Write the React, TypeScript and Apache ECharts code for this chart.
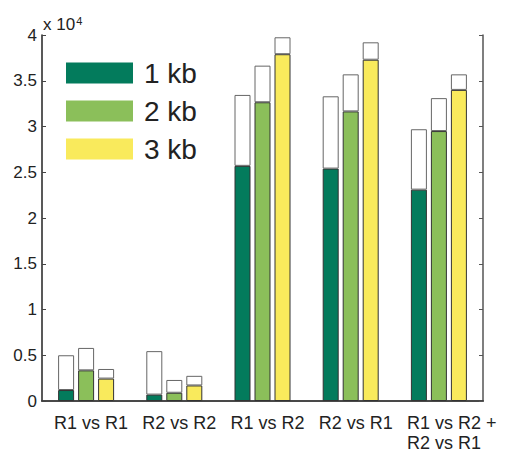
import React, { useEffect, useRef } from "react";
import * as echarts from "echarts";

const categories = ["R1 vs R1", "R2 vs R2", "R1 vs R2", "R2 vs R1", "R1 vs R2 +\nR2 vs R1"];
const seriesNames = ["1 kb", "2 kb", "3 kb"];
const colors = ["#037b5c", "#8bbf5a", "#f9ea5c"];
// colored (lower) part of each bar
const kb1Part = [1200, 700, 25700, 25400, 23100];
const kb2Part = [3350, 900, 32650, 31650, 29500];
const kb3Part = [2450, 1700, 37900, 37300, 34000];
// total height of each bar (colored + white)
const kb1Total = [5000, 5450, 33450, 33300, 29700];
const kb2Total = [5800, 2300, 36650, 35700, 33100];
const kb3Total = [3500, 2750, 39750, 39200, 35700];
const yTicks = [0, 5000, 10000, 15000, 20000, 25000, 30000, 35000, 40000];

const FONT = "'Liberation Sans', Arial, Helvetica, sans-serif";

export default function App() {
  const ref = useRef<HTMLDivElement>(null);
  useEffect(() => {
    if (!ref.current) return;
    const chart = echarts.init(ref.current, null, { renderer: "svg" });
    const parts = [kb1Part, kb2Part, kb3Part];
    const totals = [kb1Total, kb2Total, kb3Total];
    const series: any[] = [];
    for (let i = 0; i < 3; i++) {
      series.push({
        name: seriesNames[i],
        type: "bar",
        stack: "s" + i,
        barWidth: 16,
        barGap: "25%",
        data: parts[i],
        itemStyle: { color: colors[i], borderColor: "#333", borderWidth: 1 },
      });
    }
    for (let i = 0; i < 3; i++) {
      series.push({
        name: seriesNames[i] + " rest",
        type: "bar",
        stack: "s" + i,
        barWidth: 16,
        barGap: "25%",
        data: totals[i].map((t, j) => t - parts[i][j]),
        itemStyle: { color: "#ffffff", borderColor: "#666", borderWidth: 1 },
      });
    }
    const yMax = yTicks[yTicks.length - 1];
    const interval = yTicks[1] - yTicks[0];
    chart.setOption({
      animation: false,
      title: {
        text: "{a|x 10}{b|4}",
        left: 38,
        top: 10,
        textStyle: {
          fontWeight: "normal",
          rich: {
            a: { fontSize: 17, fontFamily: FONT, color: "#222", fontWeight: "normal" },
            b: { fontSize: 11, fontFamily: FONT, color: "#222", fontWeight: "normal", verticalAlign: "top", padding: [0, 0, 8, 1] },
          },
        },
      },
      legend: {
        orient: "vertical",
        left: 66,
        top: 59,
        padding: 0,
        itemWidth: 67,
        itemHeight: 21,
        itemGap: 10,
        icon: "rect",
        data: seriesNames.map((n, i) => ({ name: n, itemStyle: { color: colors[i], borderWidth: 0 } })),
        textStyle: { fontSize: 28, fontFamily: FONT, color: "#222", padding: [0, 0, 0, 6] },
        selectedMode: false,
      },
      grid: { left: 42, right: 23, top: 35, bottom: 49, containLabel: false },
      xAxis: [
        {
          type: "category",
          data: categories,
          position: "bottom",
          axisLine: { lineStyle: { color: "#222", width: 1.5 } },
          axisTick: { inside: true, alignWithLabel: true, length: 4, lineStyle: { color: "#444" } },
          axisLabel: {
            interval: 0,
            margin: 12,
            formatter: (v: string) => v.split("\n").map((l) => "{a|" + l + "}").join("\n"),
            rich: {
              a: { fontSize: 18, fontFamily: FONT, color: "#222", width: 64, align: "left", lineHeight: 20 },
            },
          },
        },
        {
          type: "category",
          data: categories,
          position: "top",
          axisLine: { lineStyle: { color: "#444", width: 1.5 } },
          axisTick: { inside: true, alignWithLabel: true, length: 4, lineStyle: { color: "#444" } },
          axisLabel: { show: false },
        },
      ],
      yAxis: [
        {
          type: "value",
          min: 0,
          max: yMax,
          interval,
          position: "left",
          splitLine: { show: false },
          axisLine: { show: true, lineStyle: { color: "#222", width: 1.5 } },
          axisTick: { show: true, inside: true, length: 4, lineStyle: { color: "#444" } },
          axisLabel: {
            margin: 5,
            fontSize: 17,
            fontFamily: FONT,
            color: "#222",
            formatter: (v: number) => String(v / 10000),
          },
        },
        {
          type: "value",
          min: 0,
          max: yMax,
          interval,
          position: "right",
          splitLine: { show: false },
          axisLine: { show: true, lineStyle: { color: "#555", width: 1.5 } },
          axisTick: { show: true, inside: true, length: 4, lineStyle: { color: "#555" } },
          axisLabel: { show: false },
        },
      ],
      series,
    });
    return () => chart.dispose();
  }, []);
  return <div ref={ref} style={{ width: 506, height: 452, position: "absolute", left: 0, top: 0 }} />;
}
